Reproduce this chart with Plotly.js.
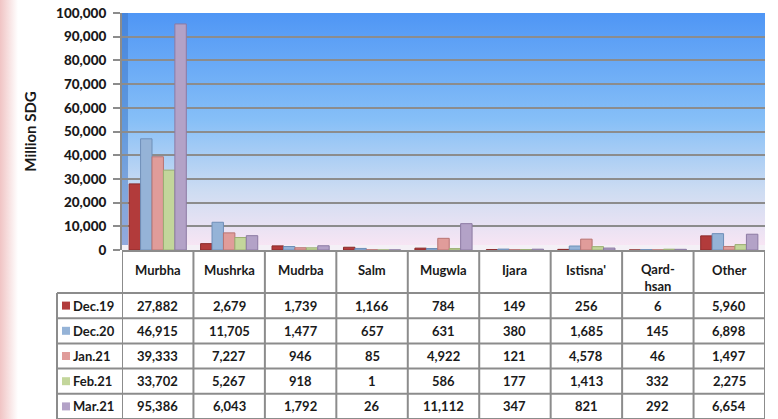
<!DOCTYPE html>
<html><head><meta charset="utf-8">
<script src="https://cdn.plot.ly/plotly-3.0.1.min.js"></script>
<style>body{margin:0;padding:0;background:#fff}#chart{width:778px;height:419px}</style>
</head><body><div id="chart"></div>
<script>
const categories = ["Murbha","Mushrka","Mudrba","Salm","Mugwla","Ijara","Istisna'","Qard-<br>hsan","Other"];
const seriesNames = ["Dec.19","Dec.20","Jan.21","Feb.21","Mar.21"];
const dec19 = [27882,2679,1739,1166,784,149,256,6,5960];
const dec20 = [46915,11705,1477,657,631,380,1685,145,6898];
const jan21 = [39333,7227,946,85,4922,121,4578,46,1497];
const feb21 = [33702,5267,918,1,586,177,1413,332,2275];
const mar21 = [95386,6043,1792,26,11112,347,821,292,6654];
const seriesValues = [dec19,dec20,jan21,feb21,mar21];
const colors = ["#b23b3b","#95b3d7","#e09c9a","#c3d69b","#b3a2c7"];
const lineColors = ["#8a2b2b","#6f8fb8","#b87472","#9bae72","#8c7aa3"];
const yTickVals = [0,10000,20000,30000,40000,50000,60000,70000,80000,90000,100000];

const W=778,H=419,L=122,R=13,T=13,B=169;
const pw=W-L-R, ph=H-T-B;
const px2x = p => (p-L)/pw;
const py2y = p => (H-B-p)/ph;

const FONT = "Lato, 'Open Sans', sans-serif";
const traces = seriesValues.map((vals,i)=>({
  type:"bar", name:seriesNames[i], x:categories, y:vals,
  marker:{color:colors[i], line:{color:lineColors[i], width:1}},
  hoverinfo:"skip"
}));

const tableLeft=57, headerTop=250, headerBottom=293, rowH=25.2;
const shapes=[], annotations=[];
const gridC="#8c8c8c";
for(let i=0;i<=categories.length;i++){
  shapes.push({type:"line",xref:"x",yref:"paper",x0:i-0.5,x1:i-0.5,y0:py2y(headerTop),y1:py2y(H),line:{color:gridC,width:2}});
}
shapes.push({type:"line",xref:"paper",yref:"paper",x0:px2x(tableLeft),x1:px2x(tableLeft),y0:py2y(headerBottom),y1:py2y(H),line:{color:gridC,width:2}});
shapes.push({type:"line",xref:"x",yref:"paper",x0:-0.5,x1:categories.length-0.5,y0:py2y(headerTop+1),y1:py2y(headerTop+1),line:{color:gridC,width:2}});
for(let r=0;r<=seriesNames.length;r++){
  const py=headerBottom+r*rowH;
  shapes.push({type:"line",xref:"paper",yref:"paper",x0:px2x(tableLeft),x1:1,y0:py2y(py),y1:py2y(py),line:{color:gridC,width:2}});
}
const TF = {family:FONT,size:13,color:"#1a1a1a"};
categories.forEach((c,i)=>{
  const isTwo=c.includes("<br>");
  annotations.push({xref:"x",yref:"paper",x:i,y:py2y(isTwo?277:270),text:"<b>"+c+"</b>",showarrow:false,
    font:TF,xanchor:"center",yanchor:"middle"});
});
const fmt = v => v.toLocaleString("en-US");
seriesNames.forEach((s,r)=>{
  const cy=py2y(headerBottom+r*rowH+rowH/2);
  shapes.push({type:"rect",xref:"paper",yref:"paper",x0:px2x(62),x1:px2x(70),y0:cy-4/ph,y1:cy+4/ph,fillcolor:colors[r],line:{width:0}});
  annotations.push({xref:"paper",yref:"paper",x:px2x(71),y:cy,text:"<b>"+s+"</b>",showarrow:false,xanchor:"left",yanchor:"middle",font:TF});
  seriesValues[r].forEach((v,i)=>{
    annotations.push({xref:"x",yref:"paper",x:i,y:cy,text:"<b>"+fmt(v)+"</b>",showarrow:false,xanchor:"center",yanchor:"middle",font:TF});
  });
});
shapes.push({type:"rect",xref:"paper",yref:"paper",x0:0,x1:px2x(128),y0:0,y1:1,fillcolor:"#3f78c8",opacity:0.55,line:{width:0},layer:"below"});
shapes.push({type:"rect",xref:"paper",yref:"paper",x0:0,x1:1,y0:0,y1:py2y(245),fillcolor:"#f4f0f6",line:{width:0},layer:"below"});

const grad = 'data:image/svg+xml;utf8,' + encodeURIComponent(
 '<svg xmlns="http://www.w3.org/2000/svg" width="100" height="100" preserveAspectRatio="none"><defs><linearGradient id="g" x1="0" y1="0" x2="0" y2="1">'+
 '<stop offset="0" stop-color="#4f96f5"/><stop offset="0.45" stop-color="#86bff7"/><stop offset="0.75" stop-color="#cddcf2"/><stop offset="1" stop-color="#fbe6f4"/>'+
 '</linearGradient></defs><rect width="100" height="100" fill="url(#g)"/></svg>');
const bgLeft = 'data:image/svg+xml;utf8,' + encodeURIComponent(
 '<svg xmlns="http://www.w3.org/2000/svg" width="100" height="100" preserveAspectRatio="none"><defs><linearGradient id="h" x1="0" y1="0" x2="1" y2="0">'+
 '<stop offset="0" stop-color="#f0c4c4"/><stop offset="1" stop-color="#ffffff"/>'+
 '</linearGradient></defs><rect width="100" height="100" fill="url(#h)"/></svg>');

const layout = {
  width:W,height:H,
  margin:{l:L,r:R,t:T,b:B},
  paper_bgcolor:"#ffffff", plot_bgcolor:"rgba(0,0,0,0)",
  barmode:"group", bargap:0.2, bargroupgap:0,
  showlegend:false,
  font:{family:FONT,color:"#1a1a1a"},
  xaxis:{type:"category",range:[-0.5,categories.length-0.5],showticklabels:false,showgrid:false,zeroline:false,showline:false,fixedrange:true},
  yaxis:{range:[0,100000],tickvals:yTickVals,tickformat:",d",showgrid:true,gridcolor:"#8c8c8c",gridwidth:2,
    showline:true,linecolor:"#8c8c8c",linewidth:2,ticks:"outside",ticklen:7,tickcolor:"#8c8c8c",tickwidth:2,
    ticklabelstandoff:4,zeroline:false,
    tickfont:{family:FONT,size:13.5,color:"#1a1a1a",weight:900},
    title:{text:"<b>Million SDG</b>",font:{family:FONT,size:15,color:"#1a1a1a"},standoff:16},fixedrange:true},
  shapes:shapes, annotations:annotations,
  images:[
    {source:bgLeft,xref:"paper",yref:"paper",x:px2x(0),y:py2y(0),sizex:px2x(18)-px2x(0),sizey:1+(B+T)/ph,xanchor:"left",yanchor:"top",sizing:"stretch",layer:"below"},
    {source:grad,xref:"paper",yref:"paper",x:0,y:1,sizex:1,sizey:1,xanchor:"left",yanchor:"top",sizing:"stretch",layer:"below"}
  ]
};
Plotly.newPlot("chart",traces,layout,{displayModeBar:false,staticPlot:true});
</script></body></html>
